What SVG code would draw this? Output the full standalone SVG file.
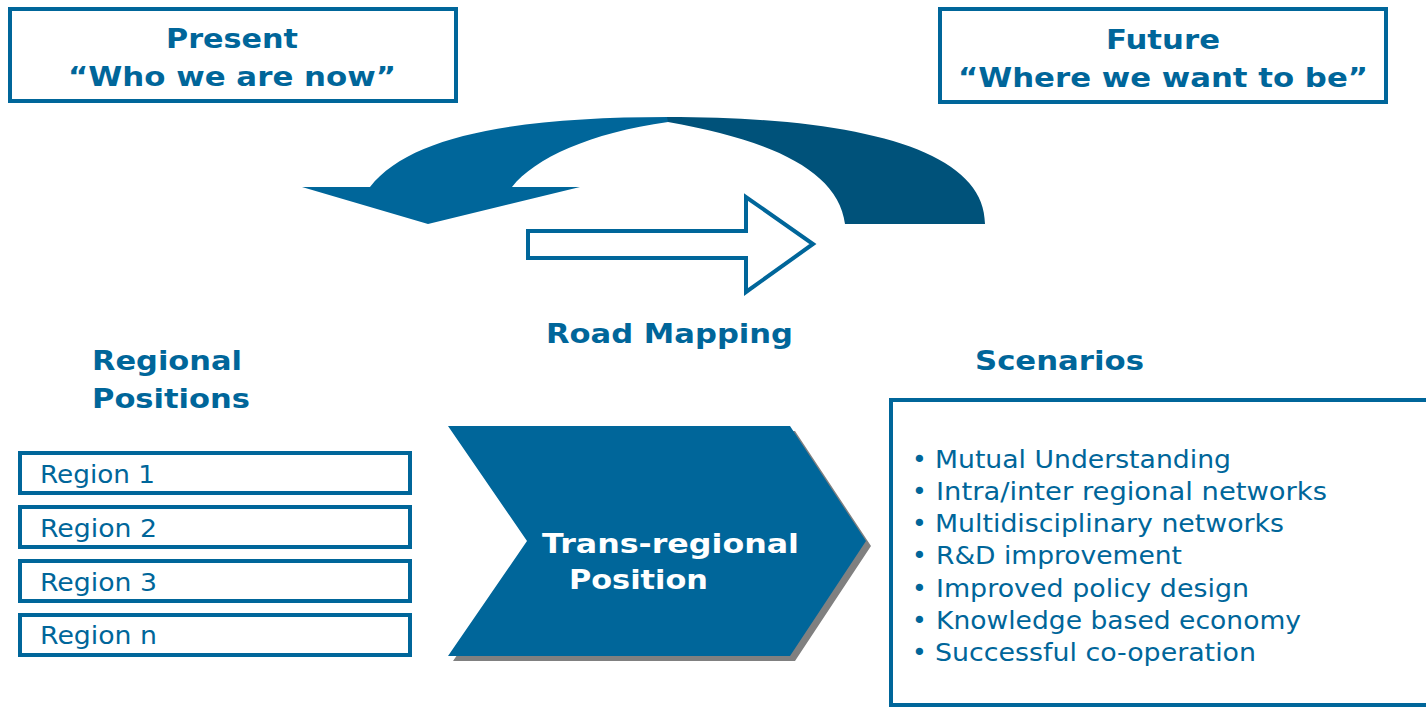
<svg xmlns="http://www.w3.org/2000/svg" width="1426" height="707" viewBox="0 0 1426 707">
<style>
.box{fill:#fff;stroke:#00669A;stroke-width:4}
.t{font-family:"DejaVu Sans","Liberation Sans",sans-serif;fill:#00669A}
.w{font-family:"DejaVu Sans","Liberation Sans",sans-serif;fill:#fff}
.b{font-weight:bold;font-size:26px}
.r{font-size:24px}
.s{font-size:25px}
</style>
<rect width="1426" height="707" fill="#fff"/>

<g id="present">
<rect class="box" x="10" y="9" width="446" height="92"/>
<text class="t b" x="166" y="48" textLength="132" lengthAdjust="spacingAndGlyphs">Present</text>
<text class="t b" x="68" y="86" textLength="328" lengthAdjust="spacingAndGlyphs">“Who we are now”</text>
</g>

<g id="future">
<rect class="box" x="940" y="9" width="446" height="93"/>
<text class="t b" x="1106" y="49" textLength="114" lengthAdjust="spacingAndGlyphs">Future</text>
<text class="t b" x="958" y="87" textLength="410" lengthAdjust="spacingAndGlyphs">“Where we want to be”</text>
</g>

<g id="connectors">
<g id="cycle-arrow">
<path fill="#00669A" d="M302,187 L370,187 C410,135 520,117 668,117 L668,122 C590,133 535,158 512,187 L580,187 L428,224 Z"/>
<path fill="#00527A" d="M667,117 C860,117 985,150 985,224 L845,224 C838,170 770,140 668,122 Z"/>
</g>
<g id="road-arrow">
<polygon points="528,231 746,231 746,197 813,244 746,292 746,258 528,258" fill="#fff" stroke="#00669A" stroke-width="4"/>
</g>
</g>

<g id="road-mapping">
<text class="t b" x="546" y="343" textLength="247" lengthAdjust="spacingAndGlyphs">Road Mapping</text>
</g>

<g id="regional-positions">
<text class="t b" x="92" y="370" textLength="150" lengthAdjust="spacingAndGlyphs">Regional</text>
<text class="t b" x="92" y="408" textLength="158" lengthAdjust="spacingAndGlyphs">Positions</text>
</g>

<g id="region1"><rect class="box" x="20" y="453" width="390" height="40"/><text class="t r" x="40" y="483" textLength="115" lengthAdjust="spacingAndGlyphs">Region 1</text></g>
<g id="region2"><rect class="box" x="20" y="507" width="390" height="40"/><text class="t r" x="40" y="537" textLength="117" lengthAdjust="spacingAndGlyphs">Region 2</text></g>
<g id="region3"><rect class="box" x="20" y="561" width="390" height="40"/><text class="t r" x="40" y="591" textLength="117" lengthAdjust="spacingAndGlyphs">Region 3</text></g>
<g id="regionn"><rect class="box" x="20" y="615" width="390" height="40"/><text class="t r" x="40" y="644" textLength="117" lengthAdjust="spacingAndGlyphs">Region n</text></g>

<g id="trans-regional">
<polygon points="453,431 795,431 871,546 795,661 453,661 532,546" fill="#808080"/>
<polygon points="448,426 790,426 866,541 790,656 448,656 527,541" fill="#00669A"/>
<text class="w b" x="542" y="553" textLength="257" lengthAdjust="spacingAndGlyphs">Trans-regional</text>
<text class="w b" x="569" y="589" textLength="139" lengthAdjust="spacingAndGlyphs">Position</text>
</g>

<g id="scenarios">
<text class="t b" x="975" y="370" textLength="169" lengthAdjust="spacingAndGlyphs">Scenarios</text>
<rect x="891" y="400" width="560" height="305" fill="#fff" stroke="#00669A" stroke-width="4"/>
<text class="t s" x="912" y="468">•</text>
<text class="t s" x="912" y="500">•</text>
<text class="t s" x="912" y="532">•</text>
<text class="t s" x="912" y="564">•</text>
<text class="t s" x="912" y="597">•</text>
<text class="t s" x="912" y="629">•</text>
<text class="t s" x="912" y="661">•</text>
<text class="t s" x="935" y="468" textLength="296" lengthAdjust="spacingAndGlyphs">Mutual Understanding</text>
<text class="t s" x="936" y="500" textLength="391" lengthAdjust="spacingAndGlyphs">Intra/inter regional networks</text>
<text class="t s" x="935" y="532" textLength="349" lengthAdjust="spacingAndGlyphs">Multidisciplinary networks</text>
<text class="t s" x="936" y="564" textLength="246" lengthAdjust="spacingAndGlyphs">R&amp;D improvement</text>
<text class="t s" x="936" y="597" textLength="313" lengthAdjust="spacingAndGlyphs">Improved policy design</text>
<text class="t s" x="936" y="629" textLength="365" lengthAdjust="spacingAndGlyphs">Knowledge based economy</text>
<text class="t s" x="935" y="661" textLength="321" lengthAdjust="spacingAndGlyphs">Successful co-operation</text>
</g>
</svg>
